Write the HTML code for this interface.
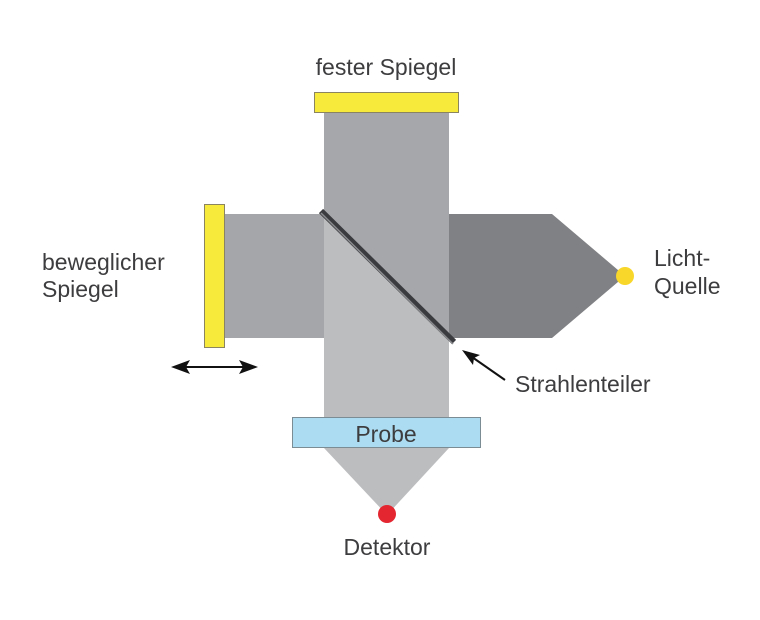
<!DOCTYPE html>
<html><head><meta charset="utf-8"><style>
body{margin:0;background:#fff;width:760px;height:615px;overflow:hidden}
text{font-family:"Liberation Sans",sans-serif;fill:#3d3d3f;font-size:23px}
</style></head><body>
<svg width="760" height="615" viewBox="0 0 760 615">
<!-- right arm -->
<polygon points="449,214 552,214 625,276 552,338 449,338" fill="#808184"/>
<!-- left arm -->
<rect x="224" y="214" width="101" height="124" fill="#a5a6a9"/>
<!-- vertical -->
<polygon points="324,113 449,113 449,417 324,417" fill="#bcbdbf"/>
<polygon points="324,113 449,113 449,338 324,214" fill="#a6a7aa"/>
<!-- detector cone -->
<polygon points="324,448 449,448 387,515" fill="#bcbdbf"/>
<!-- beamsplitter -->
<line x1="321" y1="211" x2="454" y2="342" stroke="#3a3b3e" stroke-width="6"/>
<line x1="321" y1="213" x2="453" y2="344" stroke="#8a8b8e" stroke-width="1.5"/>
<!-- mirrors -->
<rect x="314.5" y="92.5" width="144" height="20" fill="#f7ea3a" stroke="#8a8560" stroke-width="1"/>
<rect x="204.5" y="204.5" width="20" height="143" fill="#f7ea3a" stroke="#8a8560" stroke-width="1"/>
<!-- probe -->
<rect x="292.5" y="417.5" width="188" height="30" fill="#acdcf1" stroke="#7b8c95" stroke-width="1"/>
<text x="386" y="442" text-anchor="middle" font-size="22">Probe</text>
<!-- dots -->
<circle cx="625" cy="276" r="9" fill="#f8d62a"/>
<circle cx="387" cy="514" r="9" fill="#e32630"/>
<!-- arrows -->
<line x1="182" y1="367" x2="248" y2="367" stroke="#111" stroke-width="2"/>
<path d="M171,367 L190,360 L186,367 L190,374Z" fill="#111"/>
<path d="M258,367 L239,360 L243,367 L239,374Z" fill="#111"/>
<line x1="505" y1="380" x2="472" y2="357" stroke="#111" stroke-width="2"/>
<path d="M462,350 L480,355 L474,358 L473,365Z" fill="#111"/>
<!-- labels -->
<text x="386" y="75" text-anchor="middle">fester Spiegel</text>
<text x="42" y="270">beweglicher</text>
<text x="42" y="297">Spiegel</text>
<text x="654" y="266">Licht-</text>
<text x="654" y="294">Quelle</text>
<text x="515" y="392">Strahlenteiler</text>
<text x="387" y="555" text-anchor="middle">Detektor</text>
</svg>
</body></html>
